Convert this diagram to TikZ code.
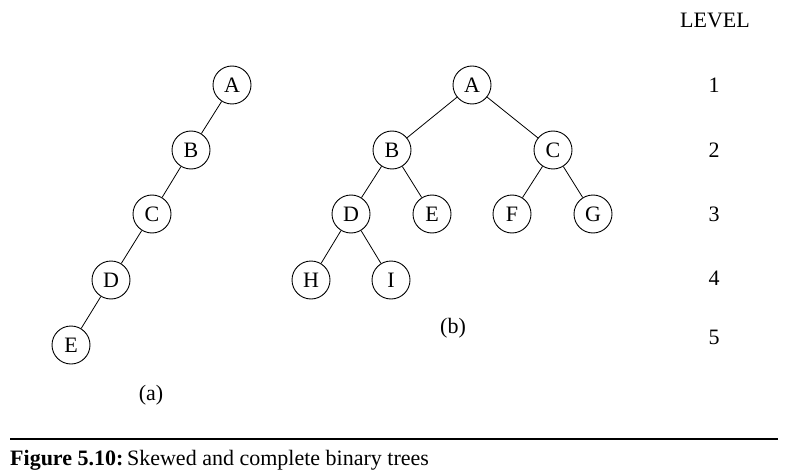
\documentclass[tikz,border=0pt]{standalone}
\usepackage{fontspec}
\setmainfont{Liberation Serif}
\begin{document}
\begin{tikzpicture}[x=1pt,y=-1pt,
  tnode/.style={draw,circle,minimum size=38pt,inner sep=0pt,line width=0.9pt,font=\fontsize{22}{22}\selectfont},
  lbl/.style={inner sep=0pt,font=\fontsize{22}{22}\selectfont},
  edge/.style={line width=0.8pt}]
\useasboundingbox (0,0) rectangle (786,473);
% tree (a)
\node[tnode] (aA) at (232,85) {A};
\node[tnode] (aB) at (191,150) {B};
\node[tnode] (aC) at (152,214) {C};
\node[tnode] (aD) at (111,280) {D};
\node[tnode] (aE) at (71,345) {E};
\draw[edge] (aA) -- (aB) (aB) -- (aC) (aC) -- (aD) (aD) -- (aE);
\node[lbl] (la) at (151,395) {(a)};
% tree (b)
\node[tnode] (bA) at (472,85) {A};
\node[tnode] (bB) at (392,150) {B};
\node[tnode] (bC) at (553,150) {C};
\node[tnode] (bD) at (351,214) {D};
\node[tnode] (bE) at (432,214) {E};
\node[tnode] (bF) at (512,214) {F};
\node[tnode] (bG) at (593,214) {G};
\node[tnode] (bH) at (311,280) {H};
\node[tnode] (bI) at (391,280) {I};
\draw[edge] (bA) -- (bB) (bA) -- (bC) (bB) -- (bD) (bB) -- (bE)
  (bC) -- (bF) (bC) -- (bG) (bD) -- (bH) (bD) -- (bI);
\node[lbl] (lb) at (453,328) {(b)};
% levels
\node[lbl] (lev) at (715,20) {LEVEL};
\node[lbl] (l1) at (714,85) {1};
\node[lbl] (l2) at (714,150) {2};
\node[lbl] (l3) at (714,214) {3};
\node[lbl] (l4) at (714,278) {4};
\node[lbl] (l5) at (714,337) {5};
% caption
\coordinate (rl) at (10,439);
\coordinate (rr) at (778,439);
\draw[line width=1.6pt] (rl) -- (rr);
\node[anchor=base west,inner sep=0pt,font=\fontsize{22}{22}\selectfont] (cap) at (10,465) {\textbf{Figure 5.10:}\,Skewed and complete binary trees};
\end{tikzpicture}
\end{document}
